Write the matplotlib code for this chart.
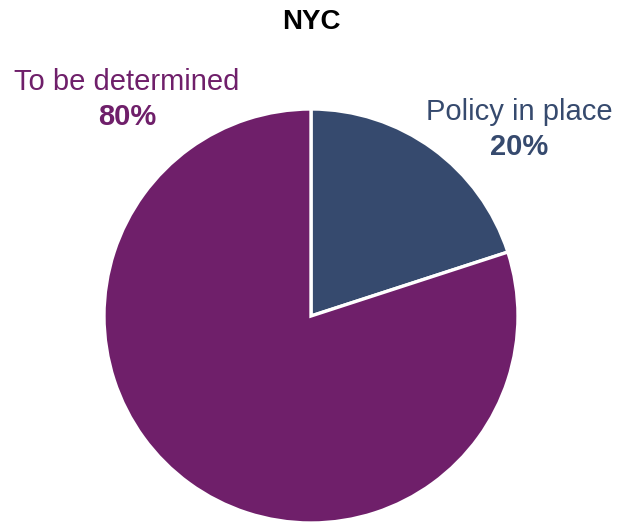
import matplotlib
matplotlib.use("Agg")
import matplotlib.pyplot as plt

plt.rcParams["font.family"] = ["Liberation Sans", "DejaVu Sans"]

categories = ["Policy in place", "To be determined"]
shares = [20, 80]
slice_colors = ["#364A6E", "#6F1F6A"]

W, H = 630, 524
fig = plt.figure(figsize=(W / 100, H / 100), dpi=100)

# pie centred at (311, 316) px, radius 207 px
ax = fig.add_axes([104 / W, 1 / H, 414 / W, 414 / H])
ax.pie(shares, colors=slice_colors, startangle=90, counterclock=False,
       wedgeprops=dict(edgecolor="white", linewidth=2.4))
ax.set_xlim(-1, 1)
ax.set_ylim(-1, 1)
ax.set_aspect("equal")

def px(x, y):
    return x / W, 1 - y / H

fig.text(*px(311, 22), "NYC", ha="center", va="center", fontsize=20, fontweight="bold", color="black")

# labels: (x, y of name, y of percent)
label_pos = [(519, 112, 147), (127, 82, 117)]
for name, val, col, (x, y1, y2) in zip(categories, shares, slice_colors, label_pos):
    fig.text(*px(x, y1), name, ha="center", va="center", fontsize=21, color=col)
    fig.text(*px(x, y2), f"{val}%", ha="center", va="center", fontsize=21,
             fontweight="bold", color=col)

fig.savefig("out.png", dpi=100)
